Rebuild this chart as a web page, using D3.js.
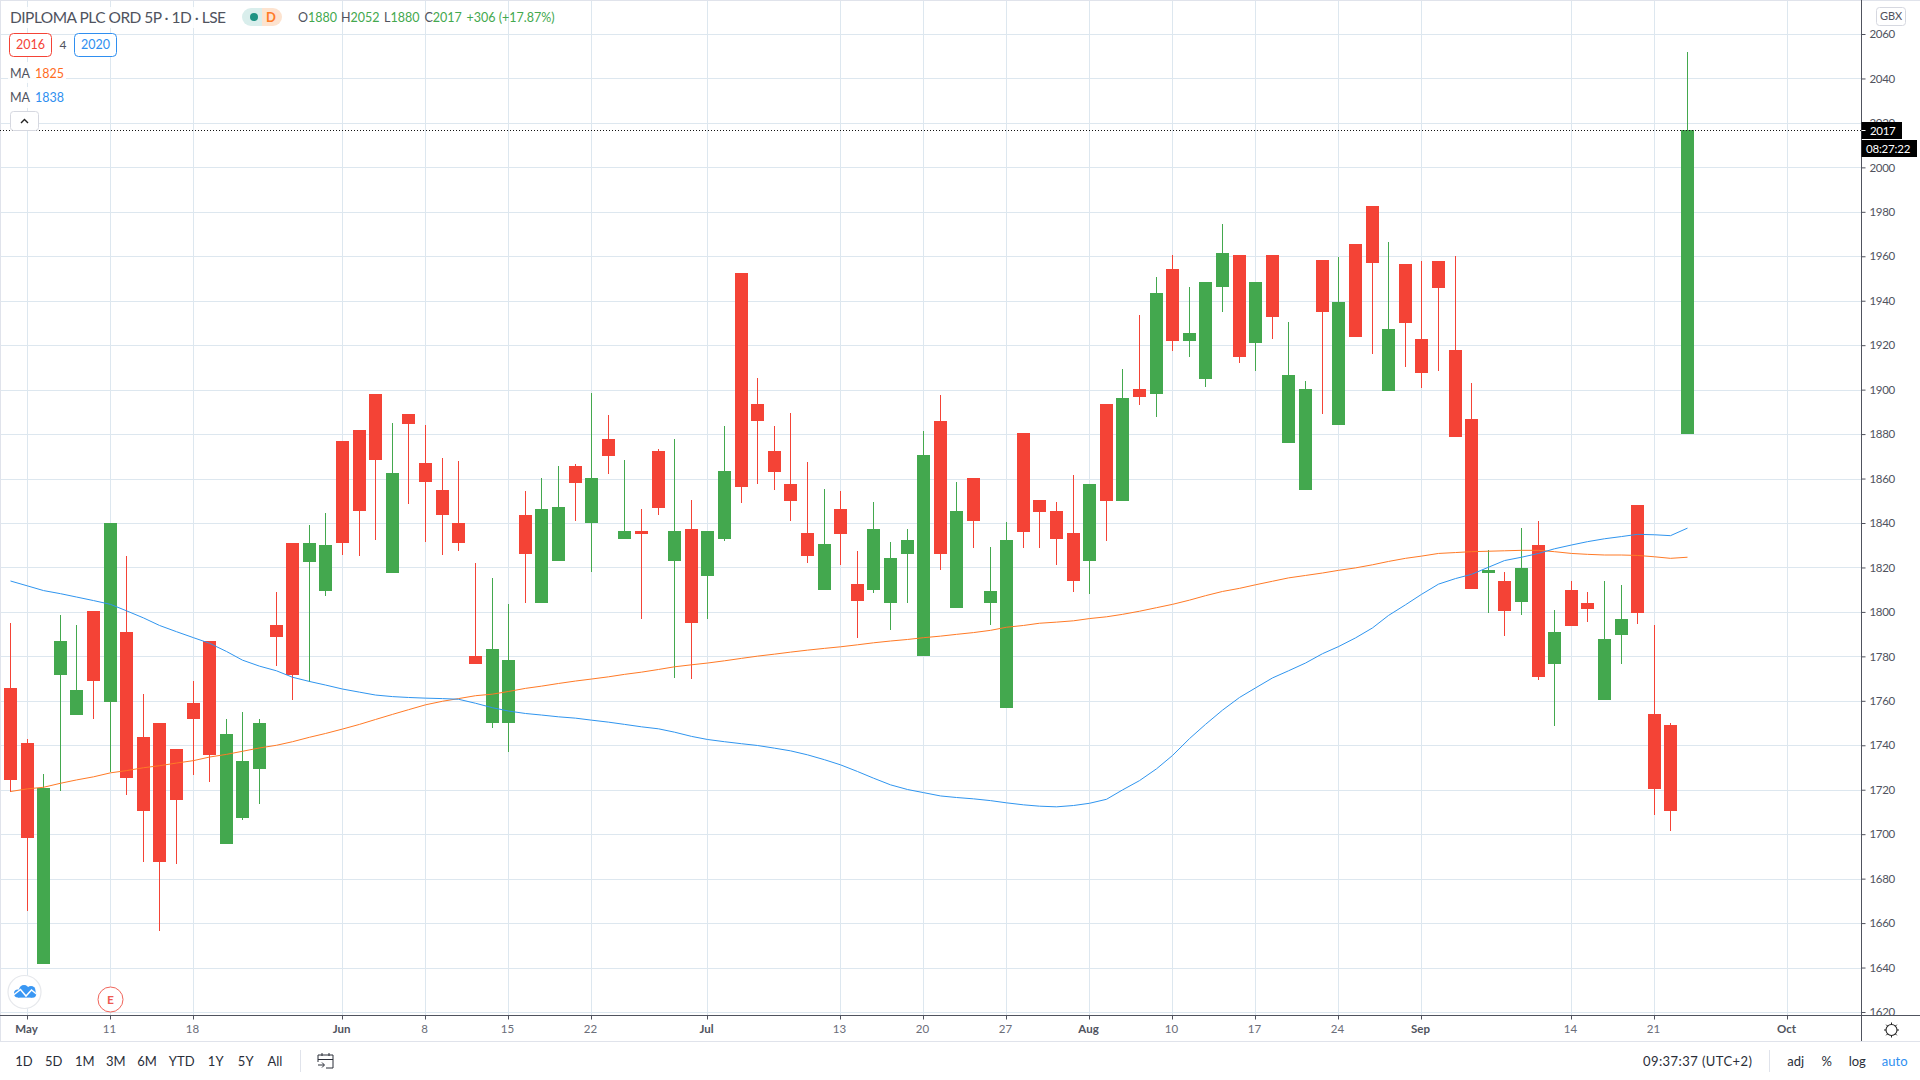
<!DOCTYPE html>
<html lang="en">

<head>
  <meta charset="UTF-8">
  <title>DIPLOMA PLC ORD 5P</title>
  <script src="https://cdn.jsdelivr.net/npm/d3@7"></script>
  <style>
    html, body { margin: 0; padding: 0; background: #fff; }
    svg { display: block; }
    text { font-family: Lato, "Open Sans", sans-serif; }
  </style>
</head>

<body>
  <script>
    // one value per trading day
    const opens = [1765.8, 1741.1, 1641.6, 1771.7, 1753.7, 1800.2, 1759.6, 1791.1, 1743.9, 1750.2, 1738.1, 1759.2, 1787, 1695.7, 1707.4, 1729.5, 1794.3, 1831.1, 1822.6, 1809.6,
      1877, 1882, 1898.2, 1817.6, 1889.1, 1867.2, 1855, 1840.2, 1780.2, 1749.9, 1749.9, 1843.4, 1803.8, 1822.7, 1865.5, 1839.8, 1878, 1832.6, 1836.2, 1872.2,
      1822.7, 1837.1, 1816, 1832.6, 1952.3, 1893.4, 1872.2, 1857.4, 1835.3, 1809.7, 1846.1, 1812.4, 1809.7, 1803.8, 1825.9, 1780, 1885.7, 1801.6, 1860.1, 1803.9,
      1756.6, 1880.4, 1850.2, 1845.2, 1835.4, 1822.7, 1893.4, 1849.7, 1900.1, 1897.9, 1954.1, 1921.7, 1904.6, 1946.1, 1960.4, 1920.8, 1960.4, 1875.9, 1854.7, 1958.1,
      1883.9, 1965.4, 1982.4, 1899.6, 1956.4, 1923, 1957.9, 1918, 1886.9, 1817.6, 1814, 1804.6, 1830.1, 1776.7, 1809.9, 1804.2, 1760.4, 1789.8, 1848.1, 1754.2,
      1749.3, 1880];
    const highs = [1795.2, 1742.9, 1727.2, 1798.4, 1794.3, 1800.2, 1840.2, 1825.2, 1763.1, 1750.2, 1738.1, 1769, 1787, 1751.9, 1755.1, 1751.9, 1809, 1831.1, 1839.3, 1844.3,
      1877, 1882, 1898.2, 1885.2, 1889.1, 1884.3, 1869.4, 1868.1, 1822.2, 1815.1, 1803.4, 1854.2, 1860.1, 1865.5, 1866.4, 1898.3, 1888.4, 1868.2, 1846.1, 1873.1,
      1878, 1850.2, 1836.2, 1883.5, 1952.3, 1905.1, 1883.5, 1889.3, 1867.3, 1855.1, 1854.2, 1827.2, 1849.3, 1831.3, 1837.1, 1881.2, 1897.4, 1858.3, 1860.1, 1829.1,
      1840.4, 1880.4, 1850.2, 1849.4, 1861.4, 1857.4, 1893.4, 1909.1, 1933.4, 1950.6, 1960.4, 1946.4, 1948.3, 1974.4, 1960.4, 1948.3, 1960.4, 1930.3, 1904.1, 1958.1,
      1959.6, 1965.4, 1982.4, 1966.3, 1956.4, 1957.9, 1957.9, 1960.2, 1903, 1827.9, 1818, 1837.9, 1840.9, 1801, 1814, 1809.1, 1814, 1812.1, 1848.1, 1794.1,
      1750, 2052];
    const lows = [1719, 1665.6, 1641.6, 1719.5, 1753.7, 1751.6, 1727.9, 1717.8, 1687.5, 1656.6, 1686.6, 1726.7, 1723.6, 1695.7, 1706.6, 1713.7, 1775.8, 1760.5, 1768.5, 1807,
      1825.8, 1825.1, 1832.5, 1817.6, 1848.7, 1831.6, 1825.8, 1827.6, 1776.7, 1747.6, 1736.8, 1803.8, 1803.8, 1822.7, 1840.7, 1817.8, 1861.9, 1832.6, 1796.6, 1843.4,
      1770.1, 1769.6, 1796.6, 1831.7, 1848.8, 1857.4, 1854.7, 1840.7, 1821.8, 1809.7, 1820.9, 1788.1, 1808.3, 1791.7, 1803.8, 1780, 1818.7, 1801.6, 1828.6, 1793.9,
      1756.6, 1828.6, 1828.6, 1820.9, 1808.9, 1807.9, 1831.7, 1849.7, 1892.9, 1887.9, 1917.6, 1914.9, 1901.1, 1934.8, 1911.8, 1908.6, 1922.6, 1875.9, 1854.7, 1888.9,
      1883.9, 1923.9, 1915.9, 1899.6, 1910.1, 1900.9, 1908.5, 1878.8, 1810.4, 1799.6, 1789.2, 1798.7, 1769.5, 1748.7, 1793.8, 1795.5, 1760.4, 1776.7, 1794.7, 1708.7,
      1701.5, 1880];
    const closes = [1724.5, 1698.4, 1721, 1787, 1764.9, 1768.7, 1840.2, 1725.4, 1710.5, 1687.5, 1715.5, 1751.6, 1735.7, 1745.2, 1733.1, 1750.2, 1788.8, 1771.7, 1831.1, 1830.2,
      1830.8, 1845.5, 1868.5, 1862.3, 1884.7, 1858.5, 1843.8, 1830.8, 1776.7, 1783.1, 1778.2, 1825.9, 1846.1, 1847, 1857.8, 1860.1, 1870, 1836.2, 1834.9, 1846.6,
      1836.2, 1794.8, 1836.2, 1863.2, 1856, 1885.7, 1862.8, 1849.7, 1825, 1830.4, 1834.9, 1804.7, 1837.1, 1824.1, 1832.2, 1870.4, 1825.9, 1845.2, 1840.7, 1809.2,
      1832.2, 1835.9, 1844.9, 1832.6, 1813.7, 1857.4, 1849.7, 1896.1, 1896.9, 1943.3, 1921.7, 1925.3, 1948.3, 1961.3, 1914.9, 1948.3, 1932.9, 1906.4, 1900.1, 1934.8,
      1939.3, 1923.9, 1956.8, 1927.1, 1929.8, 1907.7, 1945.8, 1878.8, 1810.4, 1819, 1800.6, 1819.9, 1770.9, 1791.1, 1793.8, 1801.3, 1787.9, 1797, 1799.6, 1720.5,
      1710.4, 2017];

    const maOrange = [1719.2, 1720.4, 1721.1, 1722.9, 1724.4, 1725.8, 1727.6, 1728.6, 1729.9, 1730.8, 1732, 1733.1, 1734.7, 1735.9, 1737.3, 1738.8, 1740, 1741.6, 1743.6, 1745.3,
      1747.3, 1749.4, 1751.6, 1753.9, 1756, 1758.2, 1759.8, 1761, 1762.3, 1763, 1764.2, 1765.6, 1766.6, 1767.8, 1768.9, 1769.8, 1770.8, 1771.9, 1772.9, 1774.1,
      1775.3, 1776.2, 1777, 1778, 1779.1, 1780.1, 1781, 1781.9, 1782.8, 1783.6, 1784.3, 1785.2, 1786.1, 1786.9, 1787.6, 1788.4, 1789.1, 1789.9, 1790.7, 1791.7,
      1793.1, 1793.9, 1794.9, 1795.4, 1796, 1797, 1797.8, 1798.9, 1800.3, 1801.9, 1803.4, 1805.3, 1807.3, 1809.2, 1810.6, 1812.2, 1813.8, 1815.3, 1816.4, 1817.5,
      1818.7, 1819.8, 1821.2, 1822.7, 1824.1, 1825.1, 1826.3, 1826.7, 1827.1, 1827.3, 1827.5, 1827.7, 1827.7, 1827.1, 1826.3, 1825.9, 1825.6, 1825.6, 1825.4, 1824.8,
      1824.1, 1824.6];
    const maBlue = [1813.9, 1811.7, 1809.6, 1808.2, 1806.7, 1805.1, 1803.4, 1800.5, 1797.3, 1793.9, 1791.1, 1788.4, 1785.9, 1782.2, 1778.3, 1775.6, 1773.5, 1770.6, 1768.7, 1767.1,
      1765.3, 1763.9, 1762.6, 1761.9, 1761.5, 1761.2, 1761, 1760.7, 1758.9, 1756.9, 1755.4, 1754.3, 1753.6, 1752.8, 1752.2, 1751.3, 1750.4, 1749.4, 1748.3, 1747.4,
      1745.9, 1744, 1742.6, 1741.6, 1740.7, 1739.9, 1738.7, 1737.5, 1735.7, 1733.5, 1731.2, 1728.2, 1725.2, 1722.2, 1720.1, 1718.7, 1717.2, 1716.5, 1715.9, 1715.1,
      1714.1, 1713.2, 1712.6, 1712.3, 1712.9, 1713.9, 1715.7, 1719.9, 1724.1, 1729.4, 1735.4, 1743, 1749.4, 1755.8, 1761.5, 1765.8, 1770.3, 1773.5, 1777, 1781.2,
      1784.4, 1788.3, 1792.8, 1798.4, 1803.2, 1807.9, 1812.5, 1815, 1816.9, 1820.1, 1823.1, 1824.6, 1826.3, 1828.4, 1830.1, 1831.6, 1832.9, 1833.9, 1834.9, 1834.7,
      1834.3, 1837.7];

    const priceTicks = [1620, 1640, 1660, 1680, 1700, 1720, 1740, 1760, 1780, 1800, 1820, 1840, 1860, 1880, 1900, 1920, 1940, 1960, 1980, 2000, 2020, 2040, 2060];
    const dateTicks = [1, 6, 11, 20, 25, 30, 35, 42, 50, 55, 60, 65, 70, 75, 80, 85, 94, 99, 107];
    const dateLabels = ["May", "11", "18", "Jun", "8", "15", "22", "Jul", "13", "20", "27", "Aug", "10", "17", "24", "Sep", "14", "21", "Oct"];
    const monthLabels = ["May", "Jun", "Jul", "Aug", "Sep", "Oct"];
    const ranges = ["1D", "5D", "1M", "3M", "6M", "YTD", "1Y", "5Y", "All"];
    const rangeX = [24, 53.7, 84.7, 115.7, 147, 181.7, 215.7, 245.7, 275];
    const lastPrice = 2017;

    const red = "#f44336";
    const green = "#43a84e";
    const gridColor = "#dde7ef";
    const axisColor = "#50535e";
    const textColor = "#50535e";

    const width = 1920;
    const height = 1080;
    const axisX = 1861.5;
    const axisY = 1015.5;
    const stripY = 1041.5;

    const svg = d3.select("body")
      .append("svg")
      .attr("width", width)
      .attr("height", height);

    svg.append("defs").append("clipPath")
      .attr("id", "pane")
      .append("rect")
      .attr("width", width)
      .attr("height", axisY);

    const xScale = d3.scaleLinear()
      .domain([0, 107])
      .range([10.5, 1787.1]);

    const yScale = d3.scaleLinear()
      .domain([1620, 2060])
      .range([1012, 34]);

    const px = i => Math.floor(xScale(i)) + 0.5;
    const py = v => Math.round(yScale(v)) + 0.5;

    // frame
    svg.append("line").attr("x1", 0).attr("x2", width).attr("y1", 0.5).attr("y2", 0.5).attr("stroke", "#e0e3eb");
    svg.append("line").attr("x1", 0.5).attr("x2", 0.5).attr("y1", 0).attr("y2", stripY).attr("stroke", "#e0e3eb");

    // grid
    svg.append("g").selectAll("line")
      .data(priceTicks)
      .enter()
      .append("line")
      .attr("x1", 1)
      .attr("x2", axisX)
      .attr("y1", d => py(d))
      .attr("y2", d => py(d))
      .attr("stroke", gridColor);

    svg.append("g").selectAll("line")
      .data(dateTicks)
      .enter()
      .append("line")
      .attr("x1", d => px(d))
      .attr("x2", d => px(d))
      .attr("y1", 1)
      .attr("y2", axisY)
      .attr("stroke", gridColor);

    // candles
    const candles = svg.append("g")
      .selectAll("g")
      .data(opens.map((o, i) => i))
      .enter()
      .append("g")
      .attr("fill", i => closes[i] >= opens[i] ? green : red);

    candles.append("rect")
      .attr("x", i => px(i) - 0.5)
      .attr("width", 1)
      .attr("y", i => Math.round(yScale(highs[i])))
      .attr("height", i => Math.round(yScale(lows[i])) - Math.round(yScale(highs[i])));

    candles.append("rect")
      .attr("x", i => px(i) - 6.5)
      .attr("width", 13)
      .attr("y", i => Math.round(yScale(Math.max(opens[i], closes[i]))))
      .attr("height", i => Math.max(1, Math.round(yScale(Math.min(opens[i], closes[i]))) - Math.round(yScale(Math.max(opens[i], closes[i])))));

    // moving averages
    const maLine = d3.line()
      .x((d, i) => px(i))
      .y(d => yScale(d));

    svg.append("path").datum(maOrange).attr("d", maLine).attr("fill", "none").attr("stroke", "#ff7a26").attr("stroke-width", 1);
    svg.append("path").datum(maBlue).attr("d", maLine).attr("fill", "none").attr("stroke", "#2f95ef").attr("stroke-width", 1);

    // last price line
    svg.append("line")
      .attr("x1", 0)
      .attr("x2", axisX)
      .attr("y1", py(lastPrice))
      .attr("y2", py(lastPrice))
      .attr("stroke", "#111")
      .attr("stroke-dasharray", "1,2");

    // price axis
    const yAxis = d3.axisRight(yScale)
      .tickValues(priceTicks)
      .tickSize(4)
      .tickPadding(4)
      .tickFormat(d3.format("d"));

    const yAxisG = svg.append("g")
      .attr("clip-path", "url(#pane)")
      .append("g")
      .attr("transform", `translate(${axisX}, 0)`)
      .call(yAxis);
    yAxisG.select(".domain").remove();
    yAxisG.selectAll("line").attr("stroke", axisColor);
    yAxisG.selectAll("text")
      .attr("font-size", 11.5)
      .attr("letter-spacing", "-0.3px")
      .attr("font-family", "Lato")
      .attr("fill", textColor);

    // date axis
    const xAxis = d3.axisBottom(xScale)
      .tickValues(dateTicks)
      .tickSize(4)
      .tickPadding(5)
      .tickFormat((d, i) => dateLabels[i]);

    const xAxisG = svg.append("g")
      .attr("transform", `translate(0, ${axisY})`)
      .call(xAxis);
    xAxisG.select(".domain").remove();
    xAxisG.selectAll(".tick").attr("transform", d => `translate(${px(d)}, 0)`);
    xAxisG.selectAll("line").attr("stroke", axisColor);
    xAxisG.selectAll("text")
      .attr("x", -1)
      .attr("font-size", 11.5)
      .attr("font-family", "Lato")
      .attr("font-weight", (d, i) => monthLabels.includes(dateLabels[i]) ? 700 : 400)
      .attr("fill", (d, i) => monthLabels.includes(dateLabels[i]) ? "#50535e" : "#6a6d78");

    svg.append("line").attr("x1", 0).attr("x2", width).attr("y1", axisY).attr("y2", axisY).attr("stroke", axisColor);
    svg.append("line").attr("x1", axisX).attr("x2", axisX).attr("y1", 0).attr("y2", stripY).attr("stroke", axisColor);
    svg.append("line").attr("x1", 0).attr("x2", width).attr("y1", stripY).attr("y2", stripY).attr("stroke", "#e0e3eb");

    function label(x, y, str, opts = {}) {
      return svg.append("text")
        .attr("x", x)
        .attr("y", y)
        .attr("dy", "0.35em")
        .attr("font-size", opts.size || 12.5)
        .attr("font-weight", opts.weight || 400)
        .attr("text-anchor", opts.anchor || "start")
        .attr("letter-spacing", opts.spacing || null)
        .attr("textLength", opts.length || null)
        .attr("fill", opts.fill || textColor)
        .text(str);
    }

    // price and countdown tags
    svg.append("rect").attr("x", axisX).attr("y", 122).attr("width", 40.5).attr("height", 17).attr("fill", "#000");
    svg.append("rect").attr("x", axisX).attr("y", 140).attr("width", 55.5).attr("height", 17).attr("fill", "#000");
    svg.append("line").attr("x1", axisX).attr("x2", axisX + 4).attr("y1", py(lastPrice)).attr("y2", py(lastPrice)).attr("stroke", "#fff");
    label(1870, 130.5, String(lastPrice), { size: 11.5, fill: "#fff", spacing: "-0.3px" });
    label(1866, 148.5, "08:27:22", { size: 11.5, fill: "#fff", spacing: "-0.2px" });

    svg.append("rect").attr("x", 1876.5).attr("y", 7.5).attr("width", 29).attr("height", 18).attr("rx", 3)
      .attr("fill", "#fff").attr("stroke", "#d6d8e0");
    label(1891, 16.5, "GBX", { size: 11, anchor: "middle" });

    // header
    svg.append("rect").attr("x", 8).attr("y", 7).attr("width", 222).attr("height", 21).attr("fill", "#fff").attr("opacity", 0.85);
    label(10, 17.5, "DIPLOMA PLC ORD 5P · 1D · LSE", { size: 15.5, fill: "#50535e", length: 216 });

    svg.append("path").attr("d", "M262,8h-11a9,9 0 0 0 0,18h11z").attr("fill", "#d9eeec");
    svg.append("path").attr("d", "M262,8h11a9,9 0 0 1 0,18h-11z").attr("fill", "#fde3cf");
    svg.append("circle").attr("cx", 254).attr("cy", 17).attr("r", 4).attr("fill", "#1f9384");
    label(271, 17.5, "D", { size: 13, weight: 700, anchor: "middle", fill: "#ff7a26" });

    [[298, "O", "1880"], [341, "H", "2052"], [384, "L", "1880"], [424.5, "C", "2017"]].forEach(d => {
      const t = label(d[0], 18, d[1], { size: 12.5 });
      t.append("tspan").attr("fill", green).text(d[2]);
    });
    label(466.5, 18, "+306 (+17.87%)", { size: 12.5, fill: green });

    // compare badges
    svg.append("rect").attr("x", 9.5).attr("y", 33.5).attr("width", 42).attr("height", 23).attr("rx", 4).attr("fill", "#fff").attr("stroke", red);
    label(30.5, 45, "2016", { anchor: "middle", fill: red });
    label(63, 45, "4", { size: 12, anchor: "middle" });
    svg.append("rect").attr("x", 74.5).attr("y", 33.5).attr("width", 42).attr("height", 23).attr("rx", 4).attr("fill", "#fff").attr("stroke", "#2f8ff0");
    label(95.5, 45, "2020", { anchor: "middle", fill: "#2f8ff0" });

    // MA legend
    svg.append("rect").attr("x", 8).attr("y", 62).attr("width", 58).attr("height", 21).attr("fill", "#fff").attr("opacity", 0.85);
    svg.append("rect").attr("x", 8).attr("y", 87).attr("width", 58).attr("height", 21).attr("fill", "#fff").attr("opacity", 0.85);
    label(10, 73.5, "MA");
    label(35, 73.5, "1825", { fill: "#ff6d1f" });
    label(10, 97.5, "MA");
    label(35, 97.5, "1838", { fill: "#2f8ff0" });

    // collapse button
    svg.append("rect").attr("x", 10.5).attr("y", 111.5).attr("width", 28).attr("height", 19).attr("rx", 3)
      .attr("fill", "#fff").attr("stroke", "#d6d8e0");
    svg.append("path").attr("d", "M21,123l3.5,-3.5l3.5,3.5").attr("fill", "none").attr("stroke", "#222").attr("stroke-width", 1.4);

    // logo and earnings marker
    svg.append("circle").attr("cx", 24.5).attr("cy", 992).attr("r", 16.5).attr("fill", "#fff").attr("stroke", "#e6e8ec").attr("stroke-width", 1.2);
    const cloud = svg.append("g").attr("fill", "#3a97f3");
    [[18, 993.5, 4], [24, 990, 5], [31, 990.5, 4.5], [32.5, 994, 3.7]].forEach(c => {
      cloud.append("circle").attr("cx", c[0]).attr("cy", c[1]).attr("r", c[2]);
    });
    cloud.append("rect").attr("x", 18).attr("y", 992).attr("width", 14).attr("height", 5.6);
    svg.append("path")
      .attr("d", "M13.5,995L20.5,989.5L26,996L31.5,990L36.5,994")
      .attr("fill", "none").attr("stroke", "#fff").attr("stroke-width", 1.5);
    svg.append("circle").attr("cx", 110.5).attr("cy", 999.5).attr("r", 12.5).attr("fill", "#fff").attr("stroke", "#f0645a");
    label(110.5, 1000, "E", { size: 12, weight: 700, anchor: "middle", fill: "#ee5a52" });

    // settings
    const gear = svg.append("g").attr("transform", "translate(1891.5, 1030)").attr("stroke", "#222").attr("fill", "none");
    gear.append("circle").attr("r", 5.5).attr("stroke-width", 1.1);
    d3.range(8).forEach(k => {
      const a = k * Math.PI / 4;
      gear.append("line")
        .attr("x1", 5.5 * Math.cos(a)).attr("y1", 5.5 * Math.sin(a))
        .attr("x2", 7.5 * Math.cos(a)).attr("y2", 7.5 * Math.sin(a));
    });

    // bottom toolbar
    ranges.forEach((r, i) => label(rangeX[i], 1061, r, { size: 13, anchor: "middle", fill: "#2a2e39" }));
    svg.append("line").attr("x1", 300.5).attr("x2", 300.5).attr("y1", 1050).attr("y2", 1072).attr("stroke", "#e0e3eb");
    svg.append("path")
      .attr("d", "M318,1062v-7h15v13h-7M318,1059.5h15M322,1053v3M329,1053v3M318,1065h6M322,1062.5l2.5,2.5l-2.5,2.5")
      .attr("fill", "none")
      .attr("stroke", "#2a2e39");

    label(1643, 1061, "09:37:37 (UTC+2)", { size: 13, fill: "#2a2e39", length: 109 });
    svg.append("line").attr("x1", 1769.5).attr("x2", 1769.5).attr("y1", 1050).attr("y2", 1072).attr("stroke", "#e0e3eb");
    label(1795.7, 1061, "adj", { size: 13, anchor: "middle", fill: "#2a2e39" });
    label(1826.7, 1061, "%", { size: 13, anchor: "middle", fill: "#2a2e39" });
    label(1857.3, 1061, "log", { size: 13, anchor: "middle", fill: "#2a2e39" });
    label(1894.7, 1061, "auto", { size: 13, anchor: "middle", fill: "#2f8ff0" });
  </script>
</body>

</html>
